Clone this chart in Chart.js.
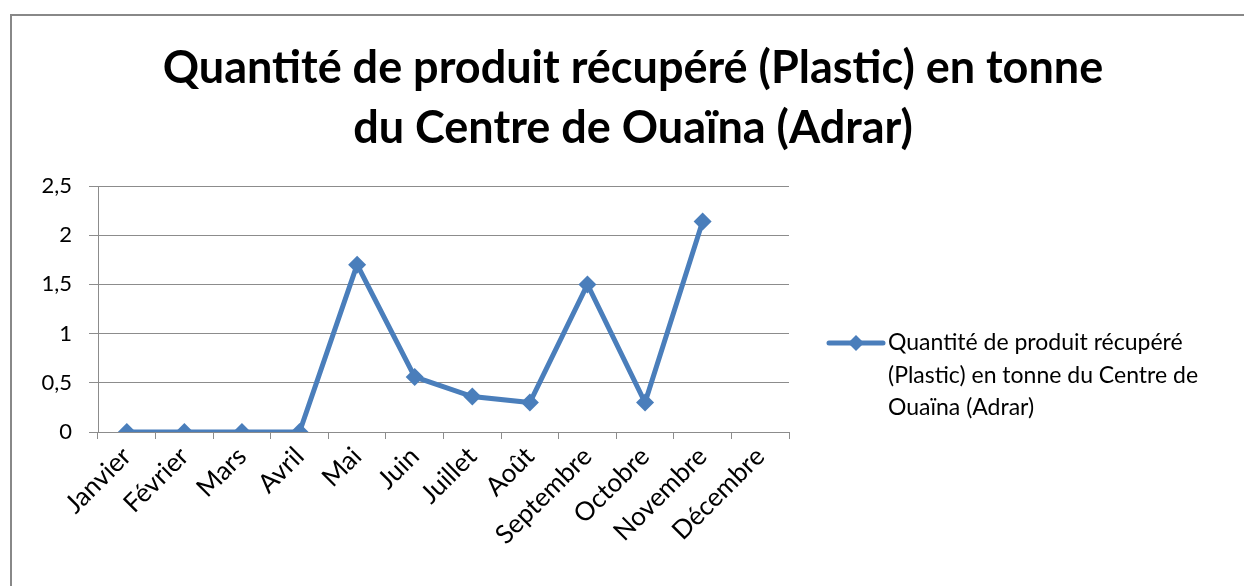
<!DOCTYPE html>
<html>
<head>
<meta charset="utf-8">
<script src="https://cdn.jsdelivr.net/npm/chart.js@4.4.1/dist/chart.umd.min.js"></script>
<style>
	html, body { margin: 0; padding: 0; background: #fff; overflow: hidden; }
	#wrap { position: absolute; left: 0; top: 0; width: 1244px; height: 586px; }
</style>
</head>
<body>
<div id="wrap"><canvas id="plasticChart" width="1244" height="586"></canvas></div>
<script>
const months = ['Janvier', 'Février', 'Mars', 'Avril', 'Mai', 'Juin', 'Juillet', 'Août', 'Septembre', 'Octobre', 'Novembre', 'Décembre'];
const tonnes = [0, 0, 0, 0, 1.7, 0.56, 0.36, 0.3, 1.5, 0.3, 2.14, null];
const yTicks = [0, 0.5, 1, 1.5, 2, 2.5];
const titleLines = ['Quantité de produit récupéré (Plastic) en tonne', 'du Centre de Ouaïna (Adrar)'];
const seriesName = 'Quantité de produit récupéré (Plastic) en tonne du Centre de Ouaïna (Adrar)';
const legendLines = ['Quantité de produit récupéré', '(Plastic) en tonne du Centre de', 'Ouaïna (Adrar)'];

const lineColor = '#4a7ebb';
const gridColor = '#8c8c8c';
const fontName = 'Lato, "Open Sans", sans-serif';

// border, title and wrapped legend like the excel sheet
const excelDeco = {
	id: 'excelDeco',
	beforeDraw: (chart) => {
		let ctx = chart.ctx;
		ctx.save();
		ctx.strokeStyle = '#888';
		ctx.lineWidth = 2;
		ctx.beginPath();
		ctx.moveTo(11, chart.height);
		ctx.lineTo(11, 15);
		ctx.lineTo(chart.width, 15);
		ctx.stroke();
		ctx.restore();
	},
	afterDraw: (chart) => {
		let ctx = chart.ctx;
		let area = chart.chartArea;
		ctx.save();
		ctx.fillStyle = '#000';
		ctx.font = 'bold 45px ' + fontName;
		ctx.textAlign = 'center';
		ctx.textBaseline = 'middle';
		titleLines.forEach((t, i) => ctx.fillText(t, 633, 68 + i * 60));

		// legend
		let lx = area.right + 40;
		let ly = 343;
		ctx.strokeStyle = lineColor;
		ctx.lineWidth = 5;
		ctx.lineCap = 'round';
		ctx.beginPath();
		ctx.moveTo(lx, ly);
		ctx.lineTo(lx + 54, ly);
		ctx.stroke();
		ctx.fillStyle = lineColor;
		ctx.beginPath();
		ctx.moveTo(lx + 27, ly - 8);
		ctx.lineTo(lx + 35, ly);
		ctx.lineTo(lx + 27, ly + 8);
		ctx.lineTo(lx + 19, ly);
		ctx.closePath();
		ctx.fill();
		ctx.fillStyle = '#000';
		ctx.font = '23px ' + fontName;
		ctx.textAlign = 'left';
		legendLines.forEach((t, i) => ctx.fillText(t, lx + 59, ly + i * 32.5));
		ctx.restore();
	}
};

const LoadChart = () => {
	let ctx = document.getElementById('plasticChart').getContext('2d');
	let myChart = new Chart(ctx, {
		type: 'line',
		data: {
			labels: months,
			datasets: [{
				label: seriesName,
				data: tonnes,
				borderColor: lineColor,
				backgroundColor: lineColor,
				borderWidth: 5,
				pointStyle: 'rectRot',
				pointRadius: 9,
				pointBorderWidth: 0,
				tension: 0,
				fill: false
			}]
		},
		options: {
			responsive: false,
			animation: false,
			layout: {
				padding: { left: 0, right: 455, top: 186, bottom: 0 }
			},
			scales: {
				x: {
					offset: true,
					grid: {
						offset: true,
						drawOnChartArea: false,
						drawTicks: true,
						tickLength: 7,
						color: gridColor
					},
					border: { color: gridColor, width: 1 },
					ticks: {
						color: '#000',
						font: { family: fontName, size: 26 },
						minRotation: 45,
						maxRotation: 45,
						autoSkip: false,
						padding: 2
					},
					afterFit: (s) => { s.height = 154; }
				},
				y: {
					min: 0,
					max: 2.5,
					afterBuildTicks: (s) => { s.ticks = yTicks.map((v) => ({ value: v })); },
					grid: {
						color: gridColor,
						lineWidth: 1,
						tickLength: 9
					},
					border: { color: gridColor, width: 1 },
					ticks: {
						color: '#000',
						font: { family: fontName, size: 22 },
						padding: 17,
						callback: (v) => String(v).replace('.', ',')
					},
					afterFit: (s) => { s.width = 98; }
				}
			},
			plugins: {
				legend: { display: false },
				title: { display: false },
				tooltip: { enabled: false }
			}
		},
		plugins: [excelDeco]
	});
};

document.fonts.load('bold 45px Lato').then(() => document.fonts.load('23px Lato')).then(LoadChart, LoadChart);
</script>
</body>
</html>
